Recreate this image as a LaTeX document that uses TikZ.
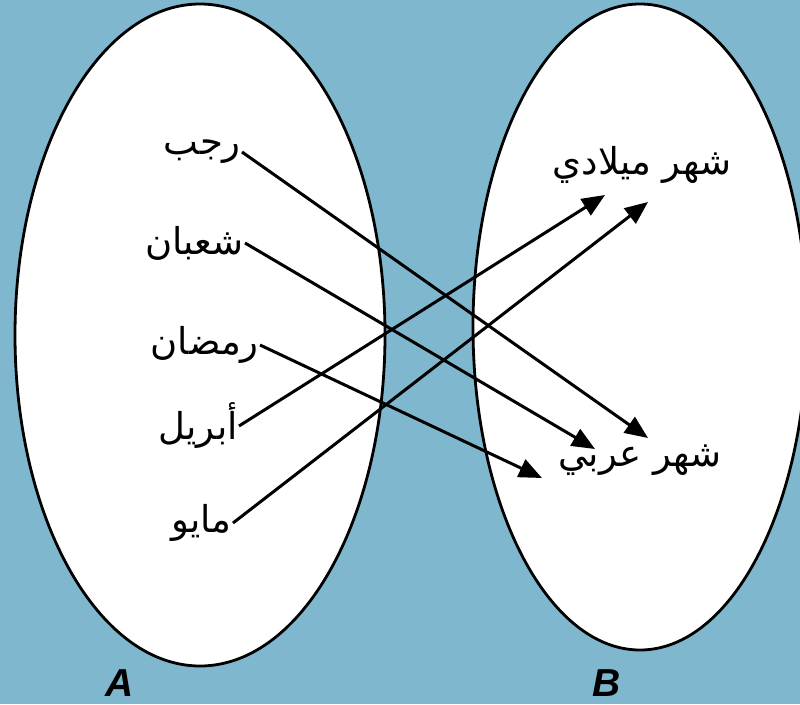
\documentclass[tikz,border=0pt]{standalone}
\usepackage{fontspec}
\setmainfont{Liberation Sans}
\newfontfamily\arabicfont[Script=Arabic]{DejaVu Sans}
\TeXXeTstate=1
\usetikzlibrary{arrows.meta, positioning}
\definecolor{cbg}{HTML}{7FB8CE}
\tikzset{
  set/.style={draw=black, fill=white, line width=2.8pt},
  word/.style={font=\arabicfont\fontsize{37}{40}\selectfont, inner sep=1pt},
  setname/.style={font=\bfseries\itshape\fontsize{39}{40}\selectfont},
  arrow/.style={-{Triangle[length=23pt, width=19pt]}, line width=3pt},
}

\begin{document}
\begin{tikzpicture}[x=1pt, y=-1pt]
  \useasboundingbox (0,0) rectangle (800,704);
  \fill[cbg] (0,0) rectangle (800,704);
  % the two sets
  \draw[set] (200,335) ellipse [x radius=185pt, y radius=331pt];
  \draw[set] (640,327) ellipse [x radius=167pt, y radius=323pt];
  \node[setname] (nameA) at (120,683) {A};
  \node[setname] (nameB) at (607,683) {B};
  % months in A
  \node[word, anchor=east] (rajab) at (242,152) {\beginR رجب\endR};
  \node[word, anchor=east] (shaaban) at (245,243) {\beginR شعبان\endR};
  \node[word, anchor=east] (ramadan) at (260,345) {\beginR رمضان\endR};
  \node[word, anchor=east] (april) at (239,426) {\beginR أبريل\endR};
  \node[word, anchor=east] (may) at (233,523) {\beginR مايو\endR};
  % kinds in B
  \node[word] (greg) at (642,165) {\beginR شهر ميلادي\endR};
  \node[word] (hijri) at (640,460) {\beginR شهر عربي\endR};
  \coordinate (g1) at (605,195);
  \coordinate (g2) at (648,202);
  \coordinate (h1) at (648,438);
  \coordinate (h2) at (595,449);
  \coordinate (h3) at (542,478);
  \draw[arrow] (rajab.east) -- (h1);
  \draw[arrow] (shaaban.east) -- (h2);
  \draw[arrow] (ramadan.east) -- (h3);
  \draw[arrow] (april.east) -- (g1);
  \draw[arrow] (may.east) -- (g2);
\end{tikzpicture}
\end{document}
